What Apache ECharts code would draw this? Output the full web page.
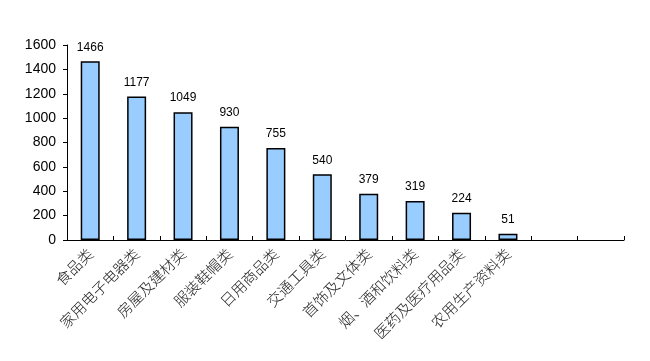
<!DOCTYPE html>
<html><head><meta charset="utf-8">
<script src="https://cdn.jsdelivr.net/npm/echarts@6/dist/echarts.min.js"></script>
<style>html,body{margin:0;padding:0;background:#fff}#c{width:650px;height:361px}</style>
</head><body><div id="c"></div>
<script>
const categories = ['食品类','家用电子电器类','房屋及建材类','服装鞋帽类','日用商品类','交通工具类','首饰及文体类','烟、酒和饮料类','医药及医疗用品类','农用生产资料类','',''];
const values = [1466,1177,1049,930,755,540,379,319,224,51,null,null];
const yTicks = {min:0,max:1600,interval:200};
const chart = echarts.init(document.getElementById('c'));
chart.setOption({
  animation:false,
  grid:{left:67,right:26,top:45,bottom:121,containLabel:false},
  xAxis:{type:'category',data:categories,
    axisLine:{lineStyle:{color:'#000',width:1}},
    axisTick:{show:true,inside:true,length:4,interval:0,lineStyle:{color:'#000'}},
    axisLabel:{rotate:45,interval:0,color:'#222',fontSize:15,fontWeight:300,fontFamily:'Noto Sans CJK SC',margin:11}
  },
  yAxis:{type:'value',min:yTicks.min,max:yTicks.max,interval:yTicks.interval,
    axisLine:{show:true,lineStyle:{color:'#000',width:1}},
    axisTick:{show:true,length:4,lineStyle:{color:'#000'}},
    splitLine:{show:false},
    axisLabel:{color:'#000',fontSize:14,fontFamily:'Liberation Sans',margin:11,formatter:v=>String(v)}
  },
  series:[{type:'bar',data:values,barWidth:19,
    itemStyle:{color:'#99CCFF',borderColor:'#000',borderWidth:1.5},
    label:{show:true,position:'top',distance:8,color:'#000',fontSize:12,fontFamily:'Liberation Sans'}
  }]
});
</script></body></html>
